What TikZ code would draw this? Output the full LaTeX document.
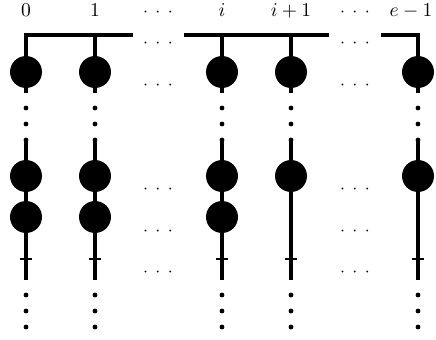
\documentclass[tikz,border=0pt]{standalone}
\newcommand{\gapdots}{\ensuremath{{\cdot}\hspace{4.2pt}{\cdot}\hspace{4.2pt}{\cdot}}}
\begin{document}
\begin{tikzpicture}[x=0.56pt,y=-0.56pt,
  bead/.style={circle,fill=black,inner sep=0pt,minimum size=17.9pt},
  knot/.style={circle,fill=black,inner sep=0pt,minimum size=2.7pt},
  notch/.style={rectangle,fill=black,inner sep=0pt,minimum width=7pt,minimum height=1.6pt},
  rod/.style={line width=1.7pt},
  head/.style={anchor=base,inner sep=0pt,font=\fontsize{11}{13}\selectfont}]
\useasboundingbox (0,0) rectangle (436,340);
% columns: name / x / label x / label / second bead
\foreach \n/\x/\lx/\lab/\two in {a/26/26/0/1, b/95/95/1/1, c/222/222/i/1, d/291/291/i+1/0, e/418/411/e-1/0} {
  \node[head] (lab\n) at (\lx,16) {$\lab$};
  \coordinate (hub\n) at (\x,35);
  \node[bead] (top\n) at (\x,72) {};
  \coordinate (stub\n) at (\x,93);
  \draw[rod] (top\n) -- (stub\n);
  \node[knot] (up1\n) at (\x,108) {};
  \node[knot] (up2\n) at (\x,124) {};
  \node[knot] (up3\n) at (\x,140) {};
  \node[bead] (mid\n) at (\x,176) {};
  \draw[rod] (up3\n.center) -- (mid\n);
  \coordinate (foot\n) at (\x,280);
  \ifnum\two=1
    \node[bead] (low\n) at (\x,217) {};
    \draw[rod] (mid\n) -- (low\n);
    \draw[rod] (low\n) -- (foot\n);
  \else
    \draw[rod] (mid\n) -- (foot\n);
  \fi
  \node[notch] (tick\n) at (\x,259) {};
  \node[knot] (dn1\n) at (\x,295) {};
  \node[knot] (dn2\n) at (\x,311) {};
  \node[knot] (dn3\n) at (\x,327) {};
}
% top bar, broken at the gaps
\coordinate (gapL1) at (133,35);
\coordinate (gapR1) at (184,35);
\coordinate (gapL2) at (329,35);
\coordinate (gapR2) at (381,35);
\draw[rod] (topa) |- (gapL1);
\draw[rod] (topb) -- (hubb);
\draw[rod] (gapR1) -- (gapL2);
\draw[rod] (topc) -- (hubc);
\draw[rod] (topd) -- (hubd);
\draw[rod] (gapR2) -| (tope);
% dots in the gaps
\foreach \g/\x in {p/158, q/355} {
  \foreach \k/\y in {1/13, 2/44, 3/86, 4/190, 5/232, 6/273}
    \node (gap\g\k) at (\x,\y) {\gapdots};
}
\end{tikzpicture}
\end{document}
